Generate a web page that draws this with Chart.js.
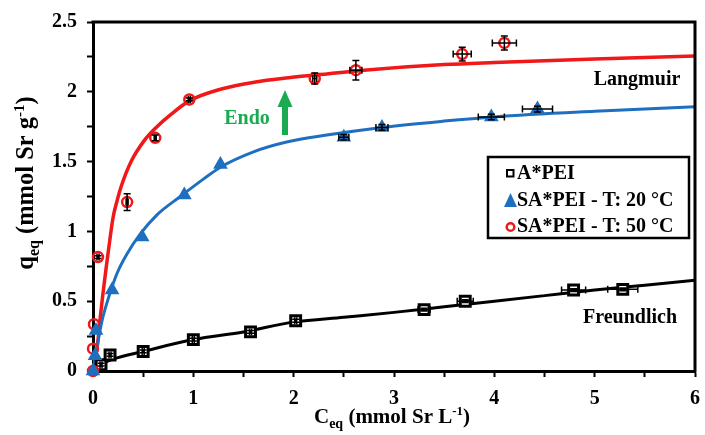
<!DOCTYPE html>
<html>
<head>
<meta charset="utf-8">
<script src="https://cdn.jsdelivr.net/npm/chart.js@4"></script>
<style>
  body { margin: 0; background: #fff; }
</style>
</head>
<body>
<canvas id="isoChart" width="705" height="435"></canvas>
<script>
// tick labels
const xTicks = [0, 1, 2, 3, 4, 5, 6];
const yTicks = [0, 0.5, 1, 1.5, 2, 2.5];

// A*PEI (experimental)
const apeiC = [0.08, 0.17, 0.5, 1.0, 1.57, 2.02, 3.3, 3.71, 4.79, 5.28];
const apeiQ = [0.045, 0.115, 0.14, 0.225, 0.28, 0.36, 0.44, 0.5, 0.58, 0.585];
const apeiErrC = [0.01, 0.01, 0.01, 0.01, 0.01, 0.01, 0.06, 0.08, 0.12, 0.15];
const apeiErrQ = [0.01, 0.01, 0.01, 0.01, 0.01, 0.01, 0.01, 0.01, 0.01, 0.01];

// SA*PEI 20 °C
const sa20C = [0, 0.02, 0.03, 0.19, 0.49, 0.91, 1.27, 2.5, 2.88, 3.97, 4.43];
const sa20Q = [0, 0.11, 0.29, 0.58, 0.96, 1.26, 1.48, 1.675, 1.745, 1.82, 1.876];
const sa20ErrC = [0, 0, 0, 0, 0, 0, 0, 0.05, 0.06, 0.13, 0.15];
const sa20ErrQ = [0, 0, 0, 0, 0, 0, 0, 0.02, 0.02, 0.02, 0.02];

// SA*PEI 50 °C
const sa50C = [0, 0, 0.01, 0.05, 0.34, 0.62, 0.96, 2.21, 2.62, 3.68, 4.1];
const sa50Q = [0, 0.16, 0.335, 0.816, 1.21, 1.67, 1.945, 2.095, 2.155, 2.27, 2.35];
const sa50ErrC = [0, 0, 0, 0.01, 0.01, 0.01, 0.01, 0.02, 0.06, 0.09, 0.12];
const sa50ErrQ = [0, 0, 0, 0.01, 0.06, 0.02, 0.01, 0.04, 0.07, 0.05, 0.05];

// fitted curves
const freundC = [0, 0.05, 0.1, 0.2, 0.5, 1.0, 1.5, 2.0, 2.5, 3.0, 3.5, 4.0, 4.5, 5.0, 5.5, 6.0];
const freundQ = [0, 0.035, 0.055, 0.085, 0.14, 0.225, 0.28, 0.35, 0.385, 0.42, 0.46, 0.5, 0.54, 0.58, 0.615, 0.65];

const lang20C = [0, 0.04, 0.09, 0.157, 0.24, 0.34, 0.47, 0.64, 0.87, 1.11, 1.27, 1.6, 1.93, 2.33, 2.88, 3.5, 4.0, 5.0, 6.0];
const lang20Q = [0, 0.17, 0.36, 0.53, 0.7, 0.84, 0.98, 1.12, 1.25, 1.38, 1.46, 1.57, 1.64, 1.69, 1.745, 1.79, 1.82, 1.86, 1.893];

const lang50C = [0, 0.02, 0.045, 0.07, 0.1, 0.133, 0.166, 0.2, 0.24, 0.28, 0.38, 0.51, 0.63, 0.78, 0.96, 1.28, 1.62, 1.95, 2.35, 2.7, 3.5, 4.0, 5.0, 6.0];
const lang50Q = [0, 0.07, 0.19, 0.37, 0.56, 0.75, 0.93, 1.1, 1.22, 1.32, 1.5, 1.65, 1.745, 1.84, 1.935, 2.02, 2.07, 2.1, 2.13, 2.155, 2.195, 2.21, 2.235, 2.257];

const RED = "#f01818";
const BLUE = "#1f6fc0";
const GREEN = "#1aab52";
const FONT = '"Liberation Serif", "Times New Roman", serif';

function pts(xs, ys) {
  return xs.map((x, i) => ({ x, y: ys[i] }));
}

// error bars
const errorBars = {
  id: "errorBars",
  afterDatasetsDraw(chart) {
    const ctx = chart.ctx;
    const xs = chart.scales.x;
    const ys = chart.scales.y;
    ctx.save();
    ctx.strokeStyle = "#000";
    ctx.lineWidth = 1.5;
    chart.data.datasets.forEach((ds) => {
      if (!ds.errX) return;
      ds.data.forEach((p, i) => {
        const px = xs.getPixelForValue(p.x);
        const py = ys.getPixelForValue(p.y);
        const ex = ds.errX[i];
        const ey = ds.errY[i];
        ctx.beginPath();
        if (ex > 0) {
          const x1 = xs.getPixelForValue(p.x - ex);
          const x2 = xs.getPixelForValue(p.x + ex);
          ctx.moveTo(x1, py); ctx.lineTo(x2, py);
          ctx.moveTo(x1, py - 3.5); ctx.lineTo(x1, py + 3.5);
          ctx.moveTo(x2, py - 3.5); ctx.lineTo(x2, py + 3.5);
        }
        if (ey > 0) {
          const y1 = ys.getPixelForValue(p.y - ey);
          const y2 = ys.getPixelForValue(p.y + ey);
          ctx.moveTo(px, y1); ctx.lineTo(px, y2);
          ctx.moveTo(px - 3.5, y1); ctx.lineTo(px + 3.5, y1);
          ctx.moveTo(px - 3.5, y2); ctx.lineTo(px + 3.5, y2);
        }
        ctx.stroke();
      });
    });
    ctx.restore();
  },
};

// text with sub/superscripts
function richText(ctx, parts, x, y) {
  let w = 0;
  parts.forEach((p) => {
    ctx.font = `bold ${p.size}px ${FONT}`;
    w += ctx.measureText(p.t).width;
  });
  let cx = x - w / 2;
  parts.forEach((p) => {
    ctx.font = `bold ${p.size}px ${FONT}`;
    ctx.fillText(p.t, cx, y + (p.dy || 0));
    cx += ctx.measureText(p.t).width;
  });
}

const extras = {
  id: "extras",
  afterDraw(chart) {
    const ctx = chart.ctx;
    const a = chart.chartArea;
    ctx.save();

    // frame top + right
    ctx.strokeStyle = "#000";
    ctx.lineWidth = 3;
    ctx.beginPath();
    ctx.moveTo(a.left - 1.5, a.top);
    ctx.lineTo(a.right, a.top);
    ctx.lineTo(a.right, a.bottom + 1.5);
    ctx.stroke();

    ctx.fillStyle = "#000";
    ctx.textBaseline = "alphabetic";
    ctx.textAlign = "left";

    // axis titles
    richText(ctx, [
      { t: "C", size: 21 },
      { t: "eq", size: 14, dy: 5 },
      { t: " (mmol Sr L", size: 21 },
      { t: "-1", size: 13, dy: -8 },
      { t: ")", size: 21 },
    ], 392, 423);

    ctx.save();
    ctx.translate(33, 183);
    ctx.rotate(-Math.PI / 2);
    richText(ctx, [
      { t: "q", size: 24.5 },
      { t: "eq", size: 16, dy: 6 },
      { t: " (mmol Sr g", size: 24.5 },
      { t: "-1", size: 15, dy: -9 },
      { t: ")", size: 24.5 },
    ], 0, 0);
    ctx.restore();

    // model labels
    ctx.font = `bold 20px ${FONT}`;
    ctx.textAlign = "center";
    ctx.textBaseline = "middle";
    ctx.fillText("Langmuir", 637, 80);
    ctx.fillText("Freundlich", 630, 318);

    ctx.fillStyle = GREEN;
    ctx.fillText("Endo", 247, 119);

    // arrow
    ctx.fillRect(282, 105, 6, 30);
    ctx.beginPath();
    ctx.moveTo(285, 90);
    ctx.lineTo(292.5, 107);
    ctx.lineTo(277.5, 107);
    ctx.closePath();
    ctx.fill();

    // legend
    ctx.strokeStyle = "#000";
    ctx.lineWidth = 2.5;
    ctx.fillStyle = "#fff";
    ctx.fillRect(488, 157, 201, 81);
    ctx.strokeRect(488, 157, 201, 81);

    ctx.fillStyle = "#000";
    ctx.textAlign = "left";
    ctx.font = `bold 20px ${FONT}`;
    ctx.fillText("A*PEI", 517, 174);
    ctx.fillText("SA*PEI - T: 20 °C", 517, 201);
    ctx.fillText("SA*PEI - T: 50 °C", 517, 227);

    ctx.lineWidth = 2;
    ctx.strokeRect(507, 170, 6.5, 6.5);

    ctx.fillStyle = BLUE;
    ctx.beginPath();
    ctx.moveTo(510.5, 193);
    ctx.lineTo(517, 207);
    ctx.lineTo(504, 207);
    ctx.closePath();
    ctx.fill();

    ctx.strokeStyle = RED;
    ctx.lineWidth = 2.5;
    ctx.beginPath();
    ctx.arc(510.5, 227, 3.8, 0, Math.PI * 2);
    ctx.stroke();

    ctx.restore();
  },
};

Chart.defaults.font.family = FONT;
Chart.defaults.font.weight = "bold";
Chart.defaults.font.size = 20;
Chart.defaults.color = "#000";

const ctx = document.getElementById("isoChart");

new Chart(ctx, {
  type: "scatter",
  data: {
    datasets: [
      {
        label: "Freundlich fit",
        data: pts(freundC, freundQ),
        showLine: true,
        cubicInterpolationMode: "monotone",
        borderColor: "#000",
        borderWidth: 3,
        pointRadius: 0,
        order: 2,
      },
      {
        label: "Langmuir fit 20",
        data: pts(lang20C, lang20Q),
        showLine: true,
        cubicInterpolationMode: "monotone",
        borderColor: BLUE,
        borderWidth: 3,
        pointRadius: 0,
        order: 2,
      },
      {
        label: "Langmuir fit 50",
        data: pts(lang50C, lang50Q),
        showLine: true,
        cubicInterpolationMode: "monotone",
        borderColor: RED,
        borderWidth: 3.5,
        pointRadius: 0,
        order: 2,
      },
      {
        label: "A*PEI",
        data: pts(apeiC, apeiQ),
        errX: apeiErrC,
        errY: apeiErrQ,
        pointStyle: "rect",
        pointRadius: 7,
        pointBorderWidth: 3,
        borderColor: "#000",
        backgroundColor: "#fff",
        clip: false,
        order: 1,
      },
      {
        label: "SA*PEI - T: 20 °C",
        data: pts(sa20C, sa20Q),
        errX: sa20ErrC,
        errY: sa20ErrQ,
        pointStyle: "triangle",
        pointRadius: 8.5,
        pointBorderWidth: 0,
        borderColor: BLUE,
        backgroundColor: BLUE,
        clip: false,
        order: 0,
      },
      {
        label: "SA*PEI - T: 50 °C",
        data: pts(sa50C, sa50Q),
        errX: sa50ErrC,
        errY: sa50ErrQ,
        pointStyle: "circle",
        pointRadius: 5,
        pointBorderWidth: 2.5,
        borderColor: RED,
        backgroundColor: "rgba(255,255,255,0)",
        clip: false,
        order: 0,
      },
    ],
  },
  options: {
    responsive: false,
    animation: false,
    layout: { padding: { top: 21, right: 8, left: 0, bottom: 0 } },
    plugins: {
      legend: { display: false },
      tooltip: { enabled: false },
    },
    scales: {
      x: {
        type: "linear",
        min: 0,
        max: 6,
        afterFit: (s) => {
          s.height = 64;
          s.paddingLeft = 0;
          s.paddingRight = 0;
        },
        border: { color: "#000", width: 3 },
        grid: {
          drawOnChartArea: false,
          tickLength: 6,
          tickWidth: 2,
          tickColor: "#000",
        },
        ticks: {
          stepSize: 0.5,
          padding: 10,
          maxRotation: 0,
          autoSkip: false,
          callback: (v) => (xTicks.includes(v) ? String(v) : ""),
        },
      },
      y: {
        type: "linear",
        min: 0,
        max: 2.5,
        afterFit: (s) => { s.width = 93; },
        border: { color: "#000", width: 3 },
        grid: {
          drawOnChartArea: false,
          tickLength: 6,
          tickWidth: 2,
          tickColor: "#000",
        },
        ticks: {
          stepSize: 0.25,
          padding: 10,
          autoSkip: false,
          callback: (v) => (yTicks.includes(v) ? String(v) : ""),
        },
      },
    },
  },
  plugins: [errorBars, extras],
});
</script>
</body>
</html>
